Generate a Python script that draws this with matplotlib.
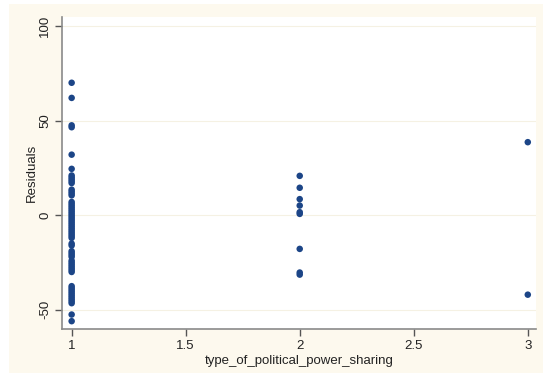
import matplotlib
matplotlib.use("Agg")
import matplotlib.pyplot as plt
from matplotlib.patches import Rectangle

plt.rcParams['font.family'] = ['Liberation Sans', 'DejaVu Sans']

# Data
x1_residuals = [70, 62, 47.5, 46.5, 32, 24.5, 21, 20, 19, 18, 17, 13.5, 12.5, 11.5, 10.5,
                7, 6, 5, 4, 3, 2, 1, 0, -1, -2, -3, -4, -5, -6, -7, -8, -9, -10, -11, -12,
                -15, -16, -19, -20, -21, -22, -24, -25, -26, -27, -28, -29, -30,
                -37.5, -38.5, -39.5, -40.5, -41.5, -42.5, -43.5, -44.5, -45.5, -46.5,
                -52.5, -56]
x2_residuals = [20.8, 14.5, 8.5, 5.1, 1.6, 0.7, -17.8, -30.3, -31.4]
x3_residuals = [38.6, -42]

xs = [1] * len(x1_residuals) + [2] * len(x2_residuals) + [3] * len(x3_residuals)
ys = x1_residuals + x2_residuals + x3_residuals

xticks = [1, 1.5, 2, 2.5, 3]
xtick_labels = ["1", "1.5", "2", "2.5", "3"]
yticks = [-50, 0, 50, 100]
ytick_labels = ["-50", "0", "50", "100"]

W, H = 543, 377
fig = plt.figure(figsize=(W / 100, H / 100), dpi=100)
fig.patch.set_facecolor('white')
cream = '#fdf9ee'
fig.patches.append(Rectangle((9 / W, 1 - 373 / H), (W - 9) / W, (373 - 4) / H,
                             transform=fig.transFigure, facecolor=cream,
                             edgecolor='none', zorder=-10))

ax = fig.add_axes([62.3 / W, 1 - 329.3 / H, (536 - 62.3) / W, (329.3 - 17.3) / H])
ax.set_facecolor('white')

for yv in yticks:
    ax.axhline(yv, color='#f5f1e3', lw=0.8, zorder=0)

ax.scatter(xs, ys, s=22, color='#1c4587', edgecolors='none', zorder=3)

ax.set_xlim(0.959, 3.036)
ax.set_ylim(-60.3, 104.6)

ax.set_xticks(xticks)
ax.set_xticklabels(xtick_labels, fontsize=9.5, color='#222222')
ax.set_yticks(yticks)
ax.set_yticklabels(ytick_labels, fontsize=9.5, rotation=90, va='center', color='#222222')

for s in ['top', 'right']:
    ax.spines[s].set_visible(False)
for s in ['left', 'bottom']:
    ax.spines[s].set_color('#8a8a8a')
    ax.spines[s].set_linewidth(1.2)

ax.tick_params(axis='both', direction='out', length=5, width=1, color='#555555', pad=3)

ax.set_xlabel('type_of_political_power_sharing', fontsize=9.5, color='#222222', labelpad=2)
ax.set_ylabel('Residuals', fontsize=9.5, color='#222222', labelpad=1)

fig.savefig('out.png', dpi=100, facecolor=fig.get_facecolor())
